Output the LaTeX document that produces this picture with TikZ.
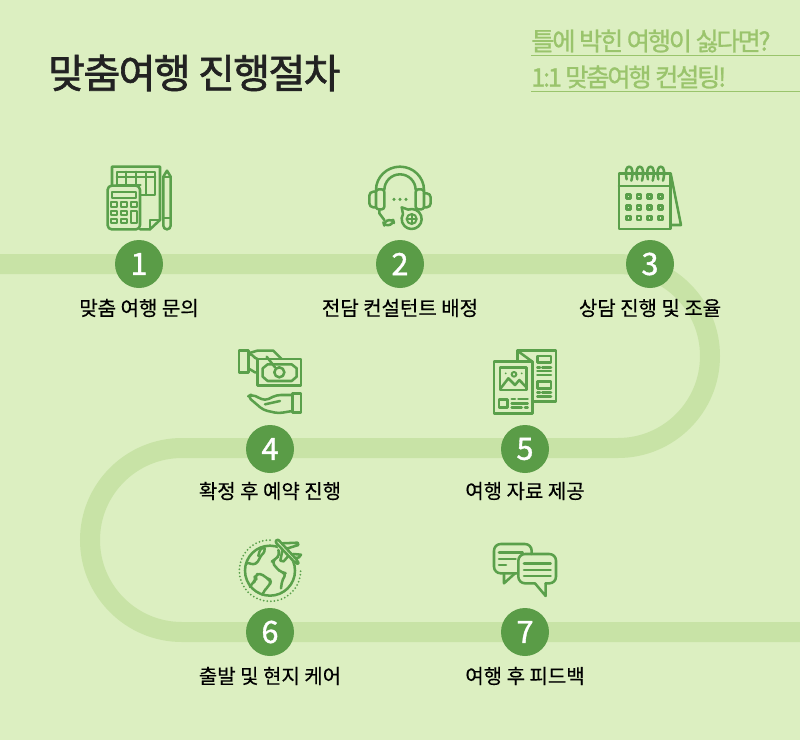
\documentclass[tikz,border=0pt]{standalone}
\usepackage{fontspec}
\setmainfont{Noto Sans CJK KR}
\newfontfamily\titlefont[LetterSpace=-4,FakeBold=1.6]{Noto Sans CJK KR}
\newfontfamily\subfont[LetterSpace=-9,FakeBold=1]{Noto Sans CJK KR}
\newfontfamily\labelfont[FakeBold=0.35]{Noto Sans CJK KR}
\newfontfamily\digitfont[FakeBold=1.2]{Noto Sans CJK KR}
\definecolor{bgc}{HTML}{DCEFC1}
\definecolor{bandc}{HTML}{C8E3A6}
\definecolor{dotc}{HTML}{5A9C47}
\definecolor{iconc}{HTML}{5AA04B}
\definecolor{subc}{HTML}{9AC46C}
\definecolor{inkc}{HTML}{222222}
\tikzset{
  stepdot/.style={circle,fill=dotc,minimum size=36pt,inner sep=0pt,text=white,font=\digitfont\fontsize{23}{23}\selectfont},
  steplabel/.style={text=black,font=\labelfont\fontsize{15}{16}\selectfont,inner sep=0pt},
  subtext/.style={text=subc,anchor=west,inner sep=0pt,font=\subfont\fontsize{19}{20}\selectfont},
  band/.style={draw=bandc,line width=15pt},
  subline/.style={draw=subc,line width=.75pt},
  ic/.style={draw=iconc,line width=1.9pt,line join=round,line cap=round},
  ict/.style={draw=iconc,line width=1.5pt,line join=round,line cap=round}
}
\begin{document}
\begin{tikzpicture}[x=.75pt,y=-.75pt]
\useasboundingbox (0,0) rectangle (800,740);
\fill[bgc] (0,0) rectangle (800,740);
% road
\coordinate (roadA) at (0,264);
\coordinate (roadB) at (618,264);
\coordinate (roadD) at (182,448);
\coordinate (roadF) at (800,632);
\draw[band] (roadA) -- (roadB) arc[start angle=-90,end angle=90,radius=92]
  -- (roadD) arc[start angle=-90,end angle=-270,radius=92] -- (roadF);
% title
\node[anchor=west,inner sep=0pt,text=inkc,font=\titlefont\fontsize{30}{32}\selectfont] (title) at (48,73) {맞춤여행 진행절차};
\node[subtext] (sub1) at (531,41) {틀에 박힌 여행이 싫다면?};
\node[subtext] (sub2) at (531,77) {1:1 맞춤여행 컨설팅!};
\coordinate (l1a) at (531,55.5); \coordinate (l1b) at (800,55.5);
\coordinate (l2a) at (531,91.5); \coordinate (l2b) at (800,91.5);
\draw[subline] (l1a) -- (l1b);
\draw[subline] (l2a) -- (l2b);
% steps
\node[stepdot] (s1) at (139,264) {1};
\node[stepdot] (s2) at (400,264) {2};
\node[stepdot] (s3) at (650,264) {3};
\node[stepdot] (s4) at (270,449) {4};
\node[stepdot] (s5) at (525,449) {5};
\node[stepdot] (s6) at (270,632) {6};
\node[stepdot] (s7) at (525,632) {7};
\node[steplabel] (t1) at (139,308) {맞춤 여행 문의};
\node[steplabel] (t2) at (400,308) {전담 컨설턴트 배정};
\node[steplabel] (t3) at (650,308) {상담 진행 및 조율};
\node[steplabel] (t4) at (270,491) {확정 후 예약 진행};
\node[steplabel] (t5) at (525,491) {여행 자료 제공};
\node[steplabel] (t6) at (270,676) {출발 및 현지 케어};
\node[steplabel] (t7) at (525,676) {여행 후 피드백};
% icon 1
\begin{scope}[shift={(80,150)},scale=1/3]
\draw[ic] (96,105) -- (96,50) -- (240,50) -- (240,210) -- (210,238) -- (180,238);
\draw[ic] (240,210) -- (210,210) -- (210,238);
\draw[ict] (110,105) -- (110,65) -- (226,65) -- (226,135) -- (182,135);
\draw[ict] (110,82) -- (226,82);
\draw[ict] (110,105) -- (182,105);
\draw[ict] (138,65) -- (138,105) (168,65) -- (168,105) (197,65) -- (197,135);
\draw[ic,rounded corners=3pt] (83,107) rectangle (180,238);
\draw[ict] (95,125) rectangle (168,143);
\foreach \r in {157,182,207}{
  \foreach \c in {92,122}{\draw[ict] (\c,\r) rectangle ++(20,13);}}
\draw[ict] (152,157) rectangle ++(20,13);
\draw[ict] (152,182) rectangle (172,220);
\draw[ic] (250,227) -- (250,80) -- (261,62) -- (272,80) -- (272,227) arc[start angle=0,end angle=180,radius=11];
\draw[ict] (250,82) -- (272,82) (250,205) -- (272,205);
\end{scope}
% icon 2
\begin{scope}[shift={(350,150)},scale=1/3]
\draw[ic] (78,125) -- (78,120) arc[start angle=180,end angle=360,x radius=72,y radius=70] -- (222,125);
\draw[ic] (103,120) arc[start angle=180,end angle=360,x radius=47,y radius=47];
\draw[ic,rounded corners=2pt] (78,118) rectangle (103,178);
\draw[ic,rounded corners=2pt] (197,118) rectangle (222,178);
\draw[ic,rounded corners=3pt] (78,125) -- (58,125) -- (58,172) -- (78,172);
\draw[ic,rounded corners=3pt] (222,130) -- (242,130) -- (242,172) -- (222,172);
\draw[ic] (88,178) -- (88,190) -- (103,210);
\draw[ic,rotate around={15:(116,218)},rounded corners=3pt] (101,211) rectangle (131,225);
\fill[iconc] (132,148) circle (5) (150,148) circle (5) (168,148) circle (5);
\draw[ic] (155,172) -- (174.7,178.8) arc[start angle=-110,end angle=210,radius=30] -- cycle;
\draw[ict] (185,207) circle (15);
\draw[ict] (170,207) -- (200,207) (185,192) -- (185,222);
\end{scope}
% icon 3
\begin{scope}[shift={(600,150)},scale=1/3]
\draw[ic] (212,70) -- (243,225) -- (212,225);
\draw[ic] (57,70) rectangle (212,237);
\draw[ic] (57,108) -- (212,108);
\foreach \x in {88,120,152,183}{
  \draw[ic] (\x-8,88) .. controls (\x-14,60) and (\x-8,50) .. (\x,50) .. controls (\x+10,50) and (\x+12,70) .. (\x+6,92);
}
\foreach \x in {85,117,149,181}\foreach \y in {140,172,204}{
  \draw[ic] (\x-6,\y-6) rectangle (\x+6,\y+6);
}
\end{scope}
% icon 4
\begin{scope}[shift={(220,335)},scale=1/3]
\draw[ic] (57,47) rectangle (85,113);
\draw[ic] (85,55) -- (112,47) -- (160,47) -- (185,72);
\draw[ic] (85,58) .. controls (100,55) and (100,70) .. (113,72);
\draw[ic] (85,100) -- (105,112) -- (113,112);
\draw[ic] (113,72) rectangle (243,152);
\draw[ic] (128,100) -- (143,88) -- (215,88) -- (230,100) -- (230,125) -- (215,138) -- (143,138) -- (128,125) -- cycle;
\draw[ic] (178,112) circle (15);
\draw[ic] (140,65) -- (165,97);
\draw[ic] (217,175) rectangle (243,233);
\draw[ic,rounded corners=3pt] (217,180) -- (170,180) -- (135,197) -- (95,178) -- (83,185) -- (130,225) -- (175,235) -- (217,228);
\draw[ic] (135,208) -- (180,198);
\end{scope}
% icon 5
\begin{scope}[shift={(480,335)},scale=1/3]
\draw[ic] (42,80) rectangle (157,235);
\draw[ic] (112,80) -- (112,47) -- (228,47) -- (228,200) -- (157,200);
\draw[ic] (112,47) -- (157,80);
\draw[ic] (60,98) rectangle (140,165);
\draw[ict] (102,118) circle (7);
\fill[iconc] (77,115) circle (3) (125,115) circle (3);
\draw[ic] (62,160) -- (85,130) -- (105,150) -- (118,135) -- (140,158);
\draw[ic] (57,193) rectangle (82,218);
\draw[ic] (95,192) -- (105,192) (115,192) -- (143,192) (95,205) -- (143,205) (95,218) -- (125,218) (135,218) -- (143,218);
\draw[ic] (172,63) rectangle (213,83) (172,140) rectangle (213,160);
\draw[ic] (172,97) -- (180,97) (187,97) -- (213,97) (172,108) -- (213,108) (172,120) -- (213,120);
\draw[ic] (172,172) -- (180,172) (187,172) -- (213,172) (172,185) -- (213,185);
\end{scope}
% icon 6
\begin{scope}[shift={(225,530)},scale=1/3]
\draw[iconc,line width=1.5pt,line cap=round,dash pattern=on 0pt off 2.7pt]
  (135,30) arc[start angle=-90,end angle=-360,radius=92];
\draw[ic] (135,122) circle (75);
\fill[bgc] (150,25) -- (235,80) -- (225,110) -- (165,70) -- cycle;
\draw[ic,rounded corners=1.5pt] (150,35) -- (158,27) -- (218,92) -- (222,103) -- (210,98) -- cycle;
\draw[ic] (170,40) -- (218,38) -- (220,45) -- (188,55);
\draw[ic] (172,62) -- (166,92) -- (176,94) -- (190,78);
\draw[ic] (205,72) -- (228,74) -- (222,82) -- (213,84);
\draw[ic,rounded corners=2pt] (118,52) -- (120,65) -- (105,80) -- (100,95) -- (85,105) -- (72,98) -- (63,100);
\draw[ic,rounded corners=2pt] (115,52) -- (105,58) -- (100,78);
\draw[ic,rounded corners=3pt] (75,170) -- (80,160) -- (95,150) -- (88,138) -- (105,128) -- (125,145) -- (138,150) -- (135,165) -- (118,180) -- (112,195);
\draw[ic,rounded corners=3pt] (160,60) -- (165,75) -- (150,88) -- (140,95) -- (155,115) -- (170,128) -- (185,130) -- (172,148) -- (168,175);
\end{scope}
% icon 7
\begin{scope}[shift={(480,530)},scale=1/3]
\draw[ic,rounded corners=5pt] (112,130) -- (42,130) -- (42,42) -- (155,42) -- (155,72);
\draw[ic] (72,130) -- (72,160) -- (105,130);
\draw[ic] (57,67) -- (128,67) (57,87) -- (107,87) (57,105) -- (78,105);
\draw[ic,rounded corners=5pt] (165,160) -- (115,160) -- (115,72) -- (228,72) -- (228,160) -- (197,160);
\draw[ic] (165,160) -- (197,198) -- (197,160);
\draw[ic] (132,100) -- (212,100) (132,120) -- (212,120) (132,138) -- (212,138);
\end{scope}
\end{tikzpicture}
\end{document}
